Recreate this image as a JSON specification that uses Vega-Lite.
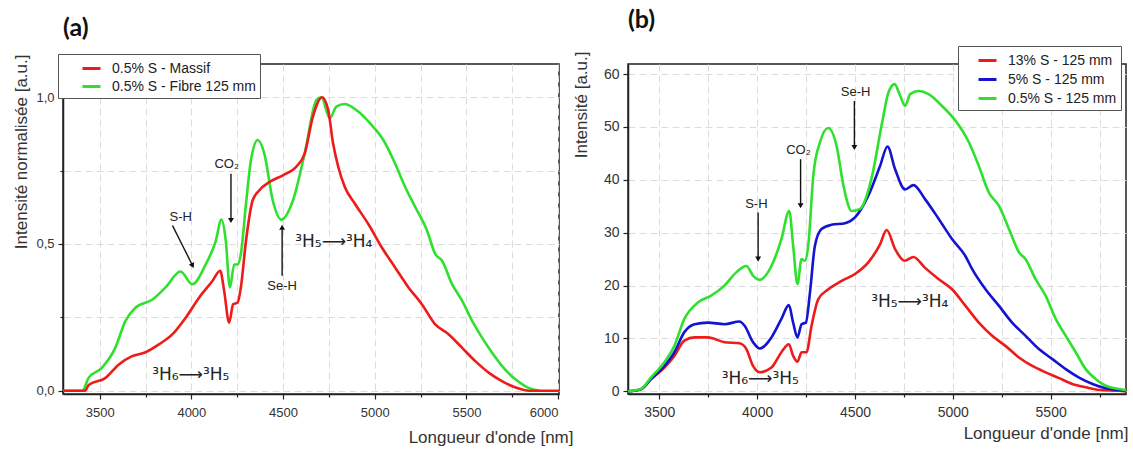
{
  "$schema": "https://vega.github.io/schema/vega-lite/v6.json",
  "background": "white",
  "padding": {"left": 11, "top": 6, "right": 0, "bottom": 0},
  "bounds": "flush",
  "spacing": 69,
  "config": {
    "font": "Liberation Sans",
    "view": {"stroke": "#222", "strokeWidth": 1.5},
    "axis": {
      "labelFont": "Liberation Sans", "labelColor": "#333",
      "titleFont": "Liberation Sans", "titleFontSize": 17, "titleFontWeight": "normal", "titleColor": "#333",
      "domainColor": "#222", "domainWidth": 1.5, "tickColor": "#222", "tickWidth": 1.2,
      "gridColor": "#dcdcdc", "gridDash": [7, 4], "gridWidth": 1
    },
    "legend": {
      "labelFont": "Liberation Sans", "labelFontSize": 14, "labelColor": "#222",
      "symbolType": "stroke", "symbolStrokeWidth": 3, "symbolSize": 324,
      "fillColor": "white", "strokeColor": "#555", "rowPadding": 0
    },
    "title": {"font": "Lato", "fontSize": 25, "fontWeight": "bold", "anchor": "start", "frame": "group", "color": "#111", "offset": 13}
  },
  "datasets": {
    "a": [
      {"series": "0.5% S - Fibre 125 mm", "nm": 3300, "v": 0},
      {"series": "0.5% S - Fibre 125 mm", "nm": 3405, "v": 0},
      {"series": "0.5% S - Fibre 125 mm", "nm": 3439, "v": 0.043},
      {"series": "0.5% S - Fibre 125 mm", "nm": 3512, "v": 0.078},
      {"series": "0.5% S - Fibre 125 mm", "nm": 3585, "v": 0.146},
      {"series": "0.5% S - Fibre 125 mm", "nm": 3640, "v": 0.237},
      {"series": "0.5% S - Fibre 125 mm", "nm": 3695, "v": 0.283},
      {"series": "0.5% S - Fibre 125 mm", "nm": 3786, "v": 0.31},
      {"series": "0.5% S - Fibre 125 mm", "nm": 3859, "v": 0.352},
      {"series": "0.5% S - Fibre 125 mm", "nm": 3941, "v": 0.406},
      {"series": "0.5% S - Fibre 125 mm", "nm": 4005, "v": 0.363},
      {"series": "0.5% S - Fibre 125 mm", "nm": 4078, "v": 0.43},
      {"series": "0.5% S - Fibre 125 mm", "nm": 4133, "v": 0.51},
      {"series": "0.5% S - Fibre 125 mm", "nm": 4164, "v": 0.583},
      {"series": "0.5% S - Fibre 125 mm", "nm": 4188, "v": 0.51},
      {"series": "0.5% S - Fibre 125 mm", "nm": 4210, "v": 0.352},
      {"series": "0.5% S - Fibre 125 mm", "nm": 4234, "v": 0.43},
      {"series": "0.5% S - Fibre 125 mm", "nm": 4252, "v": 0.43},
      {"series": "0.5% S - Fibre 125 mm", "nm": 4270, "v": 0.466},
      {"series": "0.5% S - Fibre 125 mm", "nm": 4298, "v": 0.637},
      {"series": "0.5% S - Fibre 125 mm", "nm": 4325, "v": 0.785},
      {"series": "0.5% S - Fibre 125 mm", "nm": 4362, "v": 0.854},
      {"series": "0.5% S - Fibre 125 mm", "nm": 4398, "v": 0.808},
      {"series": "0.5% S - Fibre 125 mm", "nm": 4444, "v": 0.648},
      {"series": "0.5% S - Fibre 125 mm", "nm": 4490, "v": 0.583},
      {"series": "0.5% S - Fibre 125 mm", "nm": 4554, "v": 0.648},
      {"series": "0.5% S - Fibre 125 mm", "nm": 4618, "v": 0.808},
      {"series": "0.5% S - Fibre 125 mm", "nm": 4682, "v": 0.99},
      {"series": "0.5% S - Fibre 125 mm", "nm": 4709, "v": 1.0},
      {"series": "0.5% S - Fibre 125 mm", "nm": 4755, "v": 0.928},
      {"series": "0.5% S - Fibre 125 mm", "nm": 4791, "v": 0.968},
      {"series": "0.5% S - Fibre 125 mm", "nm": 4837, "v": 0.977},
      {"series": "0.5% S - Fibre 125 mm", "nm": 4910, "v": 0.951},
      {"series": "0.5% S - Fibre 125 mm", "nm": 4983, "v": 0.905},
      {"series": "0.5% S - Fibre 125 mm", "nm": 5047, "v": 0.854},
      {"series": "0.5% S - Fibre 125 mm", "nm": 5111, "v": 0.774},
      {"series": "0.5% S - Fibre 125 mm", "nm": 5166, "v": 0.694},
      {"series": "0.5% S - Fibre 125 mm", "nm": 5221, "v": 0.626},
      {"series": "0.5% S - Fibre 125 mm", "nm": 5285, "v": 0.546},
      {"series": "0.5% S - Fibre 125 mm", "nm": 5330, "v": 0.466},
      {"series": "0.5% S - Fibre 125 mm", "nm": 5367, "v": 0.443},
      {"series": "0.5% S - Fibre 125 mm", "nm": 5422, "v": 0.363},
      {"series": "0.5% S - Fibre 125 mm", "nm": 5477, "v": 0.306},
      {"series": "0.5% S - Fibre 125 mm", "nm": 5532, "v": 0.237},
      {"series": "0.5% S - Fibre 125 mm", "nm": 5586, "v": 0.18},
      {"series": "0.5% S - Fibre 125 mm", "nm": 5641, "v": 0.129},
      {"series": "0.5% S - Fibre 125 mm", "nm": 5696, "v": 0.083},
      {"series": "0.5% S - Fibre 125 mm", "nm": 5769, "v": 0.038},
      {"series": "0.5% S - Fibre 125 mm", "nm": 5842, "v": 0.009},
      {"series": "0.5% S - Fibre 125 mm", "nm": 5897, "v": 0},
      {"series": "0.5% S - Massif", "nm": 3300, "v": 0},
      {"series": "0.5% S - Massif", "nm": 3420, "v": 0},
      {"series": "0.5% S - Massif", "nm": 3440, "v": 0.02},
      {"series": "0.5% S - Massif", "nm": 3530, "v": 0.043},
      {"series": "0.5% S - Massif", "nm": 3603, "v": 0.089},
      {"series": "0.5% S - Massif", "nm": 3677, "v": 0.118},
      {"series": "0.5% S - Massif", "nm": 3750, "v": 0.131},
      {"series": "0.5% S - Massif", "nm": 3823, "v": 0.158},
      {"series": "0.5% S - Massif", "nm": 3896, "v": 0.192},
      {"series": "0.5% S - Massif", "nm": 3969, "v": 0.249},
      {"series": "0.5% S - Massif", "nm": 4042, "v": 0.317},
      {"series": "0.5% S - Massif", "nm": 4115, "v": 0.374},
      {"series": "0.5% S - Massif", "nm": 4157, "v": 0.409},
      {"series": "0.5% S - Massif", "nm": 4179, "v": 0.34},
      {"series": "0.5% S - Massif", "nm": 4206, "v": 0.232},
      {"series": "0.5% S - Massif", "nm": 4228, "v": 0.295},
      {"series": "0.5% S - Massif", "nm": 4252, "v": 0.3},
      {"series": "0.5% S - Massif", "nm": 4270, "v": 0.352},
      {"series": "0.5% S - Massif", "nm": 4298, "v": 0.511},
      {"series": "0.5% S - Massif", "nm": 4334, "v": 0.648},
      {"series": "0.5% S - Massif", "nm": 4371, "v": 0.683},
      {"series": "0.5% S - Massif", "nm": 4426, "v": 0.711},
      {"series": "0.5% S - Massif", "nm": 4499, "v": 0.734},
      {"series": "0.5% S - Massif", "nm": 4572, "v": 0.763},
      {"series": "0.5% S - Massif", "nm": 4618, "v": 0.808},
      {"series": "0.5% S - Massif", "nm": 4663, "v": 0.934},
      {"series": "0.5% S - Massif", "nm": 4713, "v": 1.0},
      {"series": "0.5% S - Massif", "nm": 4746, "v": 0.957},
      {"series": "0.5% S - Massif", "nm": 4773, "v": 0.842},
      {"series": "0.5% S - Massif", "nm": 4801, "v": 0.763},
      {"series": "0.5% S - Massif", "nm": 4837, "v": 0.694},
      {"series": "0.5% S - Massif", "nm": 4892, "v": 0.637},
      {"series": "0.5% S - Massif", "nm": 4965, "v": 0.568},
      {"series": "0.5% S - Massif", "nm": 5038, "v": 0.489},
      {"series": "0.5% S - Massif", "nm": 5111, "v": 0.42},
      {"series": "0.5% S - Massif", "nm": 5184, "v": 0.352},
      {"series": "0.5% S - Massif", "nm": 5257, "v": 0.295},
      {"series": "0.5% S - Massif", "nm": 5330, "v": 0.226},
      {"series": "0.5% S - Massif", "nm": 5404, "v": 0.192},
      {"series": "0.5% S - Massif", "nm": 5477, "v": 0.146},
      {"series": "0.5% S - Massif", "nm": 5550, "v": 0.1},
      {"series": "0.5% S - Massif", "nm": 5623, "v": 0.061},
      {"series": "0.5% S - Massif", "nm": 5696, "v": 0.032},
      {"series": "0.5% S - Massif", "nm": 5769, "v": 0.011},
      {"series": "0.5% S - Massif", "nm": 5842, "v": 0},
      {"series": "0.5% S - Massif", "nm": 6005, "v": 0}
    ],
    "b": [
      {"series": "13% S - 125 mm", "nm": 3340, "v": 0},
      {"series": "13% S - 125 mm", "nm": 3406, "v": 0.4},
      {"series": "13% S - 125 mm", "nm": 3457, "v": 2.3},
      {"series": "13% S - 125 mm", "nm": 3526, "v": 4.5},
      {"series": "13% S - 125 mm", "nm": 3577, "v": 6.7},
      {"series": "13% S - 125 mm", "nm": 3628, "v": 9.6},
      {"series": "13% S - 125 mm", "nm": 3680, "v": 10.2},
      {"series": "13% S - 125 mm", "nm": 3748, "v": 10.2},
      {"series": "13% S - 125 mm", "nm": 3833, "v": 9.3},
      {"series": "13% S - 125 mm", "nm": 3910, "v": 9.1},
      {"series": "13% S - 125 mm", "nm": 3945, "v": 8.0},
      {"series": "13% S - 125 mm", "nm": 3979, "v": 4.8},
      {"series": "13% S - 125 mm", "nm": 4013, "v": 3.6},
      {"series": "13% S - 125 mm", "nm": 4073, "v": 4.5},
      {"series": "13% S - 125 mm", "nm": 4124, "v": 7.4},
      {"series": "13% S - 125 mm", "nm": 4162, "v": 8.9},
      {"series": "13% S - 125 mm", "nm": 4184, "v": 6.7},
      {"series": "13% S - 125 mm", "nm": 4206, "v": 5.6},
      {"series": "13% S - 125 mm", "nm": 4227, "v": 7.4},
      {"series": "13% S - 125 mm", "nm": 4252, "v": 7.4},
      {"series": "13% S - 125 mm", "nm": 4278, "v": 12.4},
      {"series": "13% S - 125 mm", "nm": 4312, "v": 17.4},
      {"series": "13% S - 125 mm", "nm": 4364, "v": 19.3},
      {"series": "13% S - 125 mm", "nm": 4432, "v": 20.9},
      {"series": "13% S - 125 mm", "nm": 4500, "v": 22.2},
      {"series": "13% S - 125 mm", "nm": 4568, "v": 24.4},
      {"series": "13% S - 125 mm", "nm": 4628, "v": 27.8},
      {"series": "13% S - 125 mm", "nm": 4662, "v": 30.5},
      {"series": "13% S - 125 mm", "nm": 4705, "v": 26.9},
      {"series": "13% S - 125 mm", "nm": 4753, "v": 24.7},
      {"series": "13% S - 125 mm", "nm": 4799, "v": 25.4},
      {"series": "13% S - 125 mm", "nm": 4857, "v": 23.4},
      {"series": "13% S - 125 mm", "nm": 4928, "v": 21.2},
      {"series": "13% S - 125 mm", "nm": 4996, "v": 19.3},
      {"series": "13% S - 125 mm", "nm": 5064, "v": 16.2},
      {"series": "13% S - 125 mm", "nm": 5133, "v": 13.0},
      {"series": "13% S - 125 mm", "nm": 5201, "v": 10.5},
      {"series": "13% S - 125 mm", "nm": 5269, "v": 8.6},
      {"series": "13% S - 125 mm", "nm": 5338, "v": 6.4},
      {"series": "13% S - 125 mm", "nm": 5406, "v": 4.8},
      {"series": "13% S - 125 mm", "nm": 5474, "v": 3.6},
      {"series": "13% S - 125 mm", "nm": 5543, "v": 2.5},
      {"series": "13% S - 125 mm", "nm": 5611, "v": 1.4},
      {"series": "13% S - 125 mm", "nm": 5679, "v": 0.76},
      {"series": "13% S - 125 mm", "nm": 5748, "v": 0.25},
      {"series": "13% S - 125 mm", "nm": 5850, "v": 0.1},
      {"series": "13% S - 125 mm", "nm": 5885, "v": 0},
      {"series": "5% S - 125 mm", "nm": 3340, "v": 0},
      {"series": "5% S - 125 mm", "nm": 3406, "v": 0.4},
      {"series": "5% S - 125 mm", "nm": 3457, "v": 2.3},
      {"series": "5% S - 125 mm", "nm": 3526, "v": 4.8},
      {"series": "5% S - 125 mm", "nm": 3577, "v": 7.4},
      {"series": "5% S - 125 mm", "nm": 3628, "v": 11.2},
      {"series": "5% S - 125 mm", "nm": 3680, "v": 12.7},
      {"series": "5% S - 125 mm", "nm": 3748, "v": 13.0},
      {"series": "5% S - 125 mm", "nm": 3833, "v": 12.7},
      {"series": "5% S - 125 mm", "nm": 3910, "v": 13.2},
      {"series": "5% S - 125 mm", "nm": 3936, "v": 12.4},
      {"series": "5% S - 125 mm", "nm": 3979, "v": 9.3},
      {"series": "5% S - 125 mm", "nm": 4013, "v": 8.1},
      {"series": "5% S - 125 mm", "nm": 4073, "v": 10.2},
      {"series": "5% S - 125 mm", "nm": 4124, "v": 13.7},
      {"series": "5% S - 125 mm", "nm": 4162, "v": 16.3},
      {"series": "5% S - 125 mm", "nm": 4184, "v": 13.0},
      {"series": "5% S - 125 mm", "nm": 4206, "v": 10.2},
      {"series": "5% S - 125 mm", "nm": 4227, "v": 12.7},
      {"series": "5% S - 125 mm", "nm": 4249, "v": 13.0},
      {"series": "5% S - 125 mm", "nm": 4270, "v": 18.7},
      {"series": "5% S - 125 mm", "nm": 4295, "v": 27.5},
      {"series": "5% S - 125 mm", "nm": 4329, "v": 30.7},
      {"series": "5% S - 125 mm", "nm": 4380, "v": 31.5},
      {"series": "5% S - 125 mm", "nm": 4449, "v": 31.8},
      {"series": "5% S - 125 mm", "nm": 4500, "v": 32.9},
      {"series": "5% S - 125 mm", "nm": 4568, "v": 37.0},
      {"series": "5% S - 125 mm", "nm": 4628, "v": 42.6},
      {"series": "5% S - 125 mm", "nm": 4666, "v": 46.3},
      {"series": "5% S - 125 mm", "nm": 4705, "v": 42.0},
      {"series": "5% S - 125 mm", "nm": 4756, "v": 38.2},
      {"series": "5% S - 125 mm", "nm": 4799, "v": 39.0},
      {"series": "5% S - 125 mm", "nm": 4857, "v": 36.4},
      {"series": "5% S - 125 mm", "nm": 4928, "v": 32.6},
      {"series": "5% S - 125 mm", "nm": 4996, "v": 28.8},
      {"series": "5% S - 125 mm", "nm": 5064, "v": 25.6},
      {"series": "5% S - 125 mm", "nm": 5099, "v": 23.1},
      {"series": "5% S - 125 mm", "nm": 5167, "v": 19.3},
      {"series": "5% S - 125 mm", "nm": 5235, "v": 16.2},
      {"series": "5% S - 125 mm", "nm": 5303, "v": 13.0},
      {"series": "5% S - 125 mm", "nm": 5372, "v": 10.5},
      {"series": "5% S - 125 mm", "nm": 5440, "v": 8.0},
      {"series": "5% S - 125 mm", "nm": 5509, "v": 6.1},
      {"series": "5% S - 125 mm", "nm": 5577, "v": 4.2},
      {"series": "5% S - 125 mm", "nm": 5645, "v": 2.6},
      {"series": "5% S - 125 mm", "nm": 5714, "v": 1.4},
      {"series": "5% S - 125 mm", "nm": 5782, "v": 0.57},
      {"series": "5% S - 125 mm", "nm": 5867, "v": 0.2},
      {"series": "5% S - 125 mm", "nm": 5885, "v": 0.1},
      {"series": "0.5% S - 125 mm", "nm": 3340, "v": 0},
      {"series": "0.5% S - 125 mm", "nm": 3406, "v": 0.43},
      {"series": "0.5% S - 125 mm", "nm": 3457, "v": 2.6},
      {"series": "0.5% S - 125 mm", "nm": 3526, "v": 5.5},
      {"series": "0.5% S - 125 mm", "nm": 3577, "v": 8.6},
      {"series": "0.5% S - 125 mm", "nm": 3628, "v": 13.7},
      {"series": "0.5% S - 125 mm", "nm": 3697, "v": 16.8},
      {"series": "0.5% S - 125 mm", "nm": 3765, "v": 18.1},
      {"series": "0.5% S - 125 mm", "nm": 3833, "v": 20.0},
      {"series": "0.5% S - 125 mm", "nm": 3893, "v": 22.5},
      {"series": "0.5% S - 125 mm", "nm": 3945, "v": 23.7},
      {"series": "0.5% S - 125 mm", "nm": 3979, "v": 21.9},
      {"series": "0.5% S - 125 mm", "nm": 4013, "v": 21.1},
      {"series": "0.5% S - 125 mm", "nm": 4073, "v": 23.7},
      {"series": "0.5% S - 125 mm", "nm": 4124, "v": 28.8},
      {"series": "0.5% S - 125 mm", "nm": 4164, "v": 34.1},
      {"series": "0.5% S - 125 mm", "nm": 4184, "v": 27.5},
      {"series": "0.5% S - 125 mm", "nm": 4206, "v": 20.3},
      {"series": "0.5% S - 125 mm", "nm": 4227, "v": 25.0},
      {"series": "0.5% S - 125 mm", "nm": 4244, "v": 24.7},
      {"series": "0.5% S - 125 mm", "nm": 4261, "v": 27.5},
      {"series": "0.5% S - 125 mm", "nm": 4287, "v": 40.8},
      {"series": "0.5% S - 125 mm", "nm": 4321, "v": 47.1},
      {"series": "0.5% S - 125 mm", "nm": 4364, "v": 49.8},
      {"series": "0.5% S - 125 mm", "nm": 4406, "v": 46.4},
      {"series": "0.5% S - 125 mm", "nm": 4441, "v": 38.9},
      {"series": "0.5% S - 125 mm", "nm": 4483, "v": 34.1},
      {"series": "0.5% S - 125 mm", "nm": 4526, "v": 34.5},
      {"series": "0.5% S - 125 mm", "nm": 4586, "v": 40.5},
      {"series": "0.5% S - 125 mm", "nm": 4637, "v": 50.5},
      {"series": "0.5% S - 125 mm", "nm": 4671, "v": 56.5},
      {"series": "0.5% S - 125 mm", "nm": 4702, "v": 58.1},
      {"series": "0.5% S - 125 mm", "nm": 4731, "v": 55.9},
      {"series": "0.5% S - 125 mm", "nm": 4756, "v": 54.0},
      {"series": "0.5% S - 125 mm", "nm": 4782, "v": 56.2},
      {"series": "0.5% S - 125 mm", "nm": 4825, "v": 56.8},
      {"series": "0.5% S - 125 mm", "nm": 4876, "v": 56.2},
      {"series": "0.5% S - 125 mm", "nm": 4944, "v": 54.0},
      {"series": "0.5% S - 125 mm", "nm": 5013, "v": 51.2},
      {"series": "0.5% S - 125 mm", "nm": 5082, "v": 47.1},
      {"series": "0.5% S - 125 mm", "nm": 5133, "v": 42.6},
      {"series": "0.5% S - 125 mm", "nm": 5184, "v": 37.6},
      {"series": "0.5% S - 125 mm", "nm": 5235, "v": 35.1},
      {"series": "0.5% S - 125 mm", "nm": 5287, "v": 30.7},
      {"series": "0.5% S - 125 mm", "nm": 5338, "v": 26.3},
      {"series": "0.5% S - 125 mm", "nm": 5372, "v": 25.0},
      {"series": "0.5% S - 125 mm", "nm": 5423, "v": 21.2},
      {"series": "0.5% S - 125 mm", "nm": 5474, "v": 18.1},
      {"series": "0.5% S - 125 mm", "nm": 5526, "v": 13.7},
      {"series": "0.5% S - 125 mm", "nm": 5577, "v": 10.5},
      {"series": "0.5% S - 125 mm", "nm": 5628, "v": 7.4},
      {"series": "0.5% S - 125 mm", "nm": 5679, "v": 4.2},
      {"series": "0.5% S - 125 mm", "nm": 5731, "v": 2.3},
      {"series": "0.5% S - 125 mm", "nm": 5782, "v": 1.06},
      {"series": "0.5% S - 125 mm", "nm": 5850, "v": 0.43},
      {"series": "0.5% S - 125 mm", "nm": 5885, "v": 0.2}
    ],
    "labA": [
      {"text": "CO₂", "nm": 4193, "v": 0.773},
      {"text": "S-H", "nm": 3942, "v": 0.592},
      {"text": "Se-H", "nm": 4495, "v": 0.357}
    ],
    "trA": [
      {"text": "³H₆⟶³H₅", "nm": 3997, "v": 0.054},
      {"text": "³H₅⟶³H₄", "nm": 4777, "v": 0.507}
    ],
    "arrA": [
      {"label": "CO2", "nm": 4216, "v": 0.739, "nm2": 4216, "v2": 0.58},
      {"label": "S-H", "nm": 3897, "v": 0.563, "nm2": 4007, "v2": 0.426},
      {"label": "Se-H", "nm": 4495, "v": 0.392, "nm2": 4495, "v2": 0.557}
    ],
    "labB": [
      {"text": "Se-H", "nm": 4503, "v": 56.6},
      {"text": "CO₂", "nm": 4211, "v": 45.6},
      {"text": "S-H", "nm": 3996, "v": 35.4}
    ],
    "trB": [
      {"text": "³H₆⟶³H₅", "nm": 4016, "v": 2.3},
      {"text": "³H₅⟶³H₄", "nm": 4780, "v": 16.9}
    ],
    "arrB": [
      {"label": "Se-H", "nm": 4497, "v": 54.9, "nm2": 4497, "v2": 46.1},
      {"label": "CO2", "nm": 4222, "v": 43.9, "nm2": 4222, "v2": 35.1},
      {"label": "S-H", "nm": 4005, "v": 33.8, "nm2": 4005, "v2": 25.0}
    ]
  },
  "resolve": {"scale": {"color": "independent"}, "legend": {"color": "independent"}},
  "hconcat": [
    {
      "width": 496,
      "height": 330,
      "title": {"text": "(a)"},
      "layer": [
        {
          "data": {"name": "a"},
          "mark": {"type": "line", "strokeWidth": 2.6, "interpolate": "monotone"},
          "encoding": {
            "x": {
              "field": "nm", "type": "quantitative", "title": "Longueur d'onde [nm]",
              "scale": {"domain": [3300, 6005], "nice": false, "zero": false},
              "axis": {
                "values": [3500, 3750, 4000, 4250, 4500, 4750, 5000, 5250, 5500, 5750, 6000],
                "format": "d",
                "labelExpr": "datum.value % 500 == 0 ? datum.label : ''",
                "labelFontSize": 13, "labelPadding": 7,
                "tickSize": {"condition": {"test": "datum.value % 500 == 0", "value": 5}, "value": 3},
                "titleX": 510, "titleY": 48, "titleAlign": "right", "titleBaseline": "alphabetic",
                "grid": true
              }
            },
            "y": {
              "field": "v", "type": "quantitative", "title": "Intensité normalisée [a.u.]",
              "scale": {"domain": [-0.011, 1.113], "nice": false, "zero": false},
              "axis": {
                "values": [0, 0.25, 0.5, 0.75, 1],
                "labelExpr": "(datum.value * 4) % 2 == 0 ? replace(format(datum.value, '.1f'), '.', ',') : ''",
                "labelFontSize": 13, "labelPadding": 4,
                "tickSize": {"condition": {"test": "(datum.value * 4) % 2 == 0", "value": 5}, "value": 3},
                "titleX": -42, "titleY": -10, "titleAlign": "right", "titleBaseline": "middle", "titleAngle": -90,
                "grid": true
              }
            },
            "color": {
              "field": "series", "type": "nominal",
              "scale": {"domain": ["0.5% S - Massif", "0.5% S - Fibre 125 mm"], "range": ["#ee1b1b", "#2fe02f"]},
              "legend": {"title": null, "orient": "none", "legendX": -5, "legendY": -10, "padding": 4, "labelLimit": 400,
                "symbolOffset": 19, "labelOffset": 10}
            }
          }
        },
        {
          "data": {"name": "labA"},
          "mark": {"type": "text", "font": "Liberation Sans", "fontSize": 13, "color": "#222"},
          "encoding": {
            "x": {"field": "nm", "type": "quantitative", "title": "Longueur d'onde [nm]"},
            "y": {"field": "v", "type": "quantitative", "title": "Intensité normalisée [a.u.]"},
            "text": {"field": "text"}
          }
        },
        {
          "data": {"name": "trA"},
          "mark": {"type": "text", "font": "DejaVu Sans", "fontSize": 17, "color": "#222"},
          "encoding": {
            "x": {"field": "nm", "type": "quantitative", "title": "Longueur d'onde [nm]"},
            "y": {"field": "v", "type": "quantitative", "title": "Intensité normalisée [a.u.]"},
            "text": {"field": "text"}
          }
        },
        {
          "data": {"name": "arrA"},
          "mark": {"type": "rule", "color": "#111", "strokeWidth": 1.4},
          "encoding": {
            "x": {"field": "nm", "type": "quantitative", "title": "Longueur d'onde [nm]"},
            "y": {"field": "v", "type": "quantitative", "title": "Intensité normalisée [a.u.]"},
            "x2": {"field": "nm2"},
            "y2": {"field": "v2"}
          }
        },
        {
          "data": {"name": "arrA"},
          "transform": [{"filter": "datum.label == 'CO2'"}],
          "mark": {"type": "point", "shape": "triangle-down", "filled": true, "color": "#111", "size": 35, "opacity": 1},
          "encoding": {
            "x": {"field": "nm2", "type": "quantitative", "title": "Longueur d'onde [nm]"},
            "y": {"field": "v2", "type": "quantitative", "title": "Intensité normalisée [a.u.]"}
          }
        },
        {
          "data": {"name": "arrA"},
          "transform": [{"filter": "datum.label == 'Se-H'"}],
          "mark": {"type": "point", "shape": "triangle-up", "filled": true, "color": "#111", "size": 35, "opacity": 1},
          "encoding": {
            "x": {"field": "nm2", "type": "quantitative", "title": "Longueur d'onde [nm]"},
            "y": {"field": "v2", "type": "quantitative", "title": "Intensité normalisée [a.u.]"}
          }
        },
        {
          "data": {"name": "arrA"},
          "transform": [{"filter": "datum.label == 'S-H'"}],
          "mark": {"type": "point", "shape": "triangle-down", "angle": 333, "filled": true, "color": "#111", "size": 35, "opacity": 1},
          "encoding": {
            "x": {"field": "nm2", "type": "quantitative", "title": "Longueur d'onde [nm]"},
            "y": {"field": "v2", "type": "quantitative", "title": "Intensité normalisée [a.u.]"}
          }
        }
      ]
    },
    {
      "width": 498,
      "height": 330,
      "title": {"text": "(b)"},
      "layer": [
        {
          "data": {"name": "b"},
          "mark": {"type": "line", "strokeWidth": 2.6, "interpolate": "monotone"},
          "encoding": {
            "x": {
              "field": "nm", "type": "quantitative", "title": "Longueur d'onde [nm]",
              "scale": {"domain": [3340, 5885], "nice": false, "zero": false},
              "axis": {
                "values": [3500, 3750, 4000, 4250, 4500, 4750, 5000, 5250, 5500, 5750],
                "format": "d",
                "labelExpr": "datum.value % 500 == 0 ? datum.label : ''",
                "labelFontSize": 14, "labelPadding": 6,
                "tickSize": {"condition": {"test": "datum.value % 500 == 0", "value": 5}, "value": 3},
                "titleX": 500, "titleY": 44, "titleAlign": "right", "titleBaseline": "alphabetic",
                "grid": true
              }
            },
            "y": {
              "field": "v", "type": "quantitative", "title": "Intensité [a.u.]",
              "scale": {"domain": [-0.5, 61.9], "nice": false, "zero": false},
              "axis": {
                "values": [0, 5, 10, 15, 20, 25, 30, 35, 40, 45, 50, 55, 60],
                "labelExpr": "datum.value % 10 == 0 ? datum.label : ''",
                "labelFontSize": 14, "labelPadding": 4,
                "tickSize": {"condition": {"test": "datum.value % 10 == 0", "value": 5}, "value": 3},
                "titleX": -47, "titleY": -13, "titleAlign": "right", "titleBaseline": "middle", "titleAngle": -90,
                "grid": true
              }
            },
            "color": {
              "field": "series", "type": "nominal",
              "scale": {"domain": ["13% S - 125 mm", "5% S - 125 mm", "0.5% S - 125 mm"], "range": ["#ee1b1b", "#1414d0", "#2fe02f"]},
              "legend": {"title": null, "orient": "none", "legendX": 330, "legendY": -18, "padding": 4, "rowPadding": 1, "labelLimit": 400,
                "symbolOffset": 15, "labelOffset": 10}
            }
          }
        },
        {
          "data": {"name": "labB"},
          "mark": {"type": "text", "font": "Liberation Sans", "fontSize": 13, "color": "#222"},
          "encoding": {
            "x": {"field": "nm", "type": "quantitative", "title": "Longueur d'onde [nm]"},
            "y": {"field": "v", "type": "quantitative", "title": "Intensité [a.u.]"},
            "text": {"field": "text"}
          }
        },
        {
          "data": {"name": "trB"},
          "mark": {"type": "text", "font": "DejaVu Sans", "fontSize": 17, "color": "#222"},
          "encoding": {
            "x": {"field": "nm", "type": "quantitative", "title": "Longueur d'onde [nm]"},
            "y": {"field": "v", "type": "quantitative", "title": "Intensité [a.u.]"},
            "text": {"field": "text"}
          }
        },
        {
          "data": {"name": "arrB"},
          "mark": {"type": "rule", "color": "#111", "strokeWidth": 1.4},
          "encoding": {
            "x": {"field": "nm", "type": "quantitative", "title": "Longueur d'onde [nm]"},
            "y": {"field": "v", "type": "quantitative", "title": "Intensité [a.u.]"},
            "x2": {"field": "nm2"},
            "y2": {"field": "v2"}
          }
        },
        {
          "data": {"name": "arrB"},
          "mark": {"type": "point", "shape": "triangle-down", "filled": true, "color": "#111", "size": 35, "opacity": 1},
          "encoding": {
            "x": {"field": "nm2", "type": "quantitative", "title": "Longueur d'onde [nm]"},
            "y": {"field": "v2", "type": "quantitative", "title": "Intensité [a.u.]"}
          }
        }
      ]
    }
  ]
}
